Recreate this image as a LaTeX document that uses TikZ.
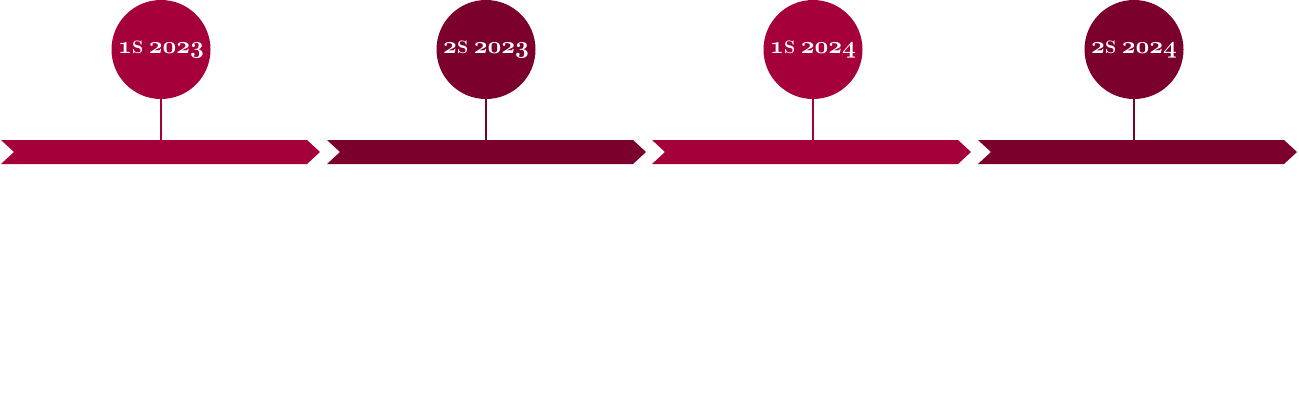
\RequirePackage{fix-cm}
\documentclass[tikz,border=0pt]{standalone}
\usepackage{fontspec}
\definecolor{crimA}{HTML}{A5003B}
\definecolor{crimB}{HTML}{7B002D}
\newcommand{\osn}[1]{{\usefont{OML}{cmm}{b}{it}\fontsize{18}{18}\selectfont #1}}
\newcommand{\scS}{{\fontsize{13.5}{13.5}\selectfont\bfseries S}}
\newcommand{\lbl}[2]{\osn{#1}\kern0.3pt\scS\hspace{4pt}\osn{#2}}
\tikzset{
  px/.style={x=0.75pt,y=-0.75pt},
  dot/.style={circle,minimum size=74.25pt,inner sep=0pt,text=white},
  stem/.style={line width=1.5pt},
}
\begin{document}
\begin{tikzpicture}[px]
\useasboundingbox (0,0) rectangle (1299,415);
\foreach \i/\sx/\cx/\col/\a/\b in {1/1/161/crimA/1/2023, 2/327/486/crimB/2/2023, 3/652/813/crimA/1/2024, 4/978/1134/crimB/2/2024}{
  \fill[\col] (\sx,140) -- ++(306,0) -- ++(13,12) -- ++(-13,12) -- ++(-306,0) -- ++(13,-12) -- cycle;
  \coordinate (bar\i) at (\cx,140);
  \node[dot,fill=\col] (c\i) at (\cx,49.5) {\lbl{\a}{\b}};
  \draw[stem,\col] (c\i.south) -- (bar\i);
}
\end{tikzpicture}
\end{document}
